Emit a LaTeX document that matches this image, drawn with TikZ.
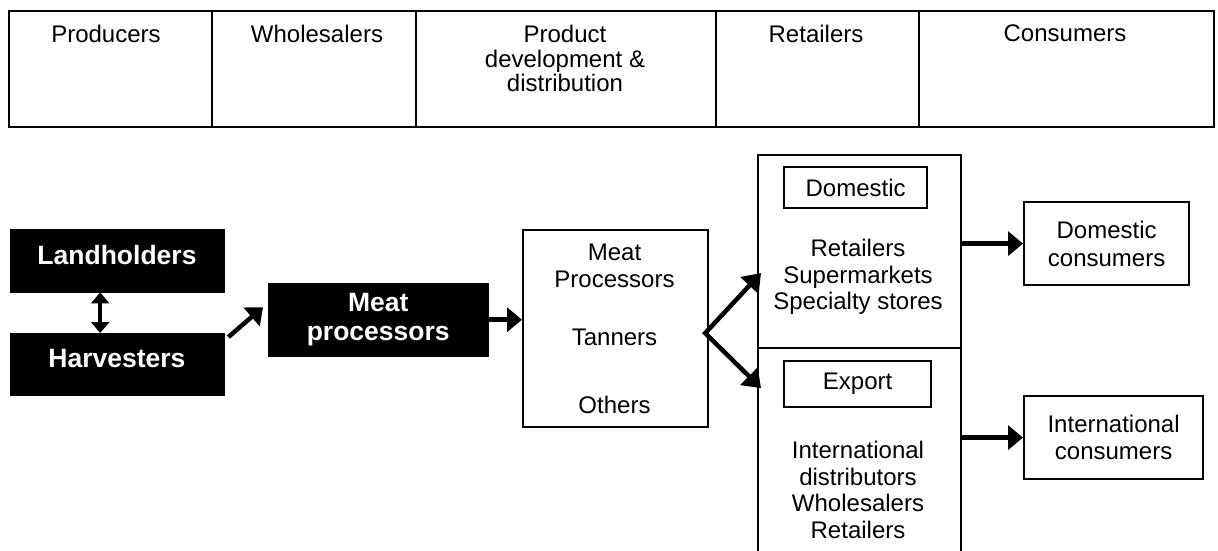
\documentclass[tikz,border=0pt]{standalone}
\usepackage{fontspec}
\setmainfont{Liberation Sans}
\usetikzlibrary{arrows.meta}
\begin{document}
\begin{tikzpicture}[x=1pt,y=-1pt,
  box/.style={draw=black, line width=2.2pt, inner sep=0pt, anchor=north west},
  blkbox/.style={draw=black, fill=black, inner sep=0pt, anchor=north west},
  lbl/.style={inner sep=0pt, align=center, font=\fontsize{24}{26.5}\selectfont},
  tlbl/.style={inner sep=0pt, align=center, font=\fontsize{24}{24.5}\selectfont},
  wlbl/.style={inner sep=0pt, align=center, text=white, font=\fontsize{26.5}{29}\selectfont\bfseries},
  arr/.style={line width=4.5pt, -{Triangle[length=15pt,width=24pt]}},
  farr/.style={line width=4.5pt, line join=miter, {Triangle[length=17pt,width=24pt]}-{Triangle[length=17pt,width=24pt]}},
  darr/.style={line width=3.5pt, {Triangle[length=11pt,width=18pt]}-{Triangle[length=11pt,width=18pt]}}
]
\useasboundingbox[fill=white] (0,0) rectangle (1218,550);

% top row
\node[box, minimum width=203pt, minimum height=116pt] (tp1) at (8,10) {};
\node[box, minimum width=204pt, minimum height=116pt] (tp2) at (211,10) {};
\node[box, minimum width=300pt, minimum height=116pt] (tp3) at (415,10) {};
\node[box, minimum width=203pt, minimum height=116pt] (tp4) at (715,10) {};
\node[box, minimum width=295pt, minimum height=116pt] (tp5) at (918,10) {};
\node[tlbl, anchor=north] (tl1) at (106,25) {Producers};
\node[tlbl, anchor=north] (tl2) at (317,25) {Wholesalers};
\node[tlbl, anchor=north] (tl3) at (565,25) {Product\\development \&\\distribution};
\node[tlbl, anchor=north] (tl4) at (816,25) {Retailers};
\node[tlbl, anchor=north] (tl5) at (1065,25) {Consumers};

% black boxes
\node[blkbox, minimum width=214pt, minimum height=63pt] (land) at (10,229) {};
\node[blkbox, minimum width=214pt, minimum height=62pt] (harv) at (10,333) {};
\node[blkbox, minimum width=220pt, minimum height=73pt] (mp) at (268,283) {};
\node[wlbl] (landt) at (117,255) {Landholders};
\node[wlbl] (harvt) at (117,359) {Harvesters};
\node[wlbl] (mpt) at (mp.center) {Meat\\processors};

% middle box
\node[box, minimum width=185pt, minimum height=197pt] (mid) at (522,229) {};
\node[lbl] (midt1) at (614.5,266) {Meat\\Processors};
\node[lbl] (midt2) at (614.5,337) {Tanners};
\node[lbl] (midt3) at (614.5,405) {Others};

% retail boxes
\node[box, minimum width=203pt, minimum height=193pt] (domb) at (757,154) {};
\node[box, minimum width=203pt, minimum height=213pt] (expb) at (757,347) {};
\node[box, minimum width=143pt, minimum height=41pt, lbl, anchor=north west] (doml) at (783,166) {Domestic};
\node[box, minimum width=147pt, minimum height=46pt, lbl, anchor=north west] (expl) at (783,360) {Export};
\node[lbl] (domt) at (858,277) {Retailers\\Supermarkets\\Specialty stores};
\node[lbl] (expt) at (858,490) {International\\distributors\\Wholesalers\\Retailers};

% consumers
\node[box, lbl, font=\fontsize{24}{28}\selectfont, anchor=north west, minimum width=165pt, minimum height=83pt] (dcons) at (1023,201) {Domestic\\consumers};
\node[box, lbl, font=\fontsize{24}{27.5}\selectfont, anchor=north west, minimum width=179pt, minimum height=83pt] (icons) at (1023,395) {International\\consumers};

% connectors
\draw[darr] ([xshift=-17pt]land.south) -- ([xshift=-17pt]harv.north);
\draw[arr] ([shift={(4pt,-4pt)}]harv.north east) -- ([shift={(-5pt,12.5pt)}]mp.west);
\draw[arr] (mp.east) -- (mid.west |- mp.east);
\draw[farr] ([shift={(4pt,-21.5pt)}]domb.west) -- ([shift={(-4pt,-4.5pt)}]mid.east) -- ([shift={(4pt,66.5pt)}]expb.west);
\draw[arr] (domb.east |- dcons.west) -- (dcons.west);
\draw[arr] (expb.east |- icons.west) -- (icons.west);
\end{tikzpicture}
\end{document}
